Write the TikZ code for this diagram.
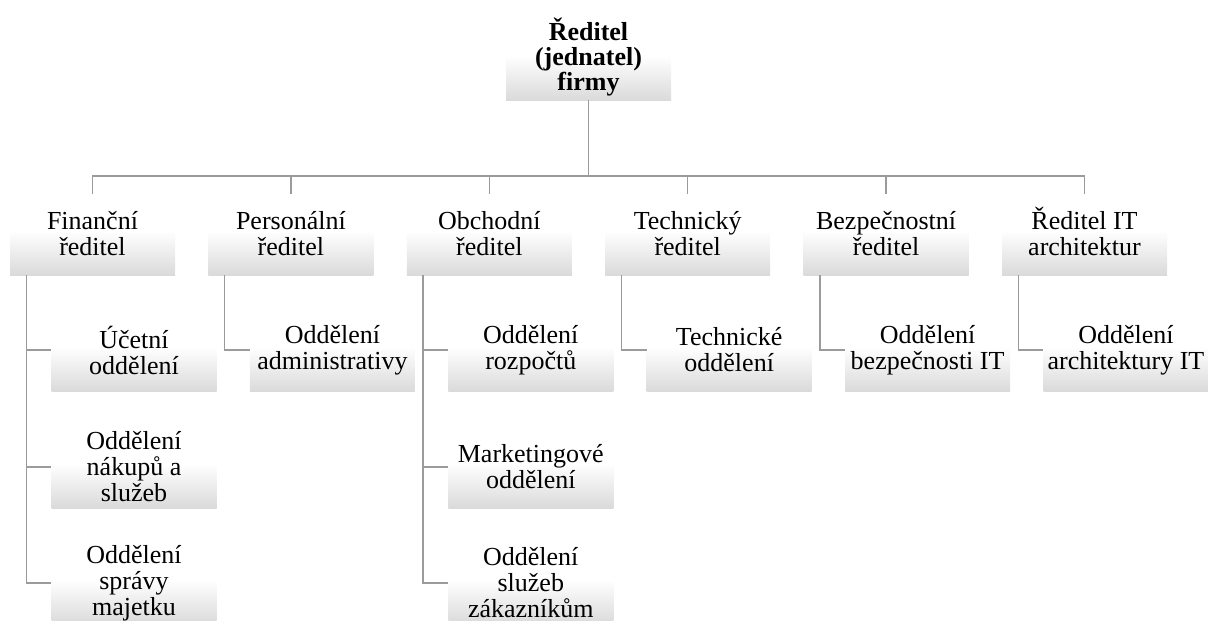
\documentclass[tikz,border=0pt]{standalone}
\usepackage{fontspec}
\setmainfont{Liberation Serif}
\definecolor{fadegray}{RGB}{218,218,218}
\definecolor{linkgray}{RGB}{155,155,155}
\pgfdeclareverticalshading{boxfade}{100bp}{color(0bp)=(fadegray); color(25bp)=(fadegray); color(52bp)=(white); color(100bp)=(white)}
\begin{document}
\begin{tikzpicture}[x=1pt,y=-1pt,
  unitbox/.style={rectangle, shading=boxfade, minimum width=165pt, minimum height=82pt,
    inner sep=0pt, align=center, font=\fontsize{26}{26}\selectfont},
  headbox/.style={unitbox, font=\fontsize{26}{25}\selectfont\bfseries},
  link/.style={draw=linkgray, line width=1.3pt}]
\useasboundingbox (0,0) rectangle (1208,621);

% top of the hierarchy
\node[headbox] (top) at (588.5,59) {\smash{Ř}editel\\(jednatel)\\firmy};

% directors
\node[unitbox] (fin) at (92.5,234)  {Finanční\\ředitel};
\node[unitbox] (per) at (290.9,234) {Personální\\ředitel};
\node[unitbox] (obc) at (489.3,234) {Obchodní\\ředitel};
\node[unitbox] (tec) at (687.7,234) {Technický\\ředitel};
\node[unitbox] (bez) at (886.1,234) {Bezpečnostní\\ředitel};
\node[unitbox] (ita) at (1084.5,234) {\smash{Ř}editel IT\\architektur};

% departments
\node[unitbox] (fin1) at (134,350) {Účetní\\oddělení};
\node[unitbox] (fin2) at (134,467) {Oddělení\\nákupů a\\služeb};
\node[unitbox] (fin3) at (134,583) {Oddělení\\správy\\majetku};
\node[unitbox] (per1) at (332.4,350) {Oddělení\\administrativy};
\node[unitbox] (obc1) at (530.8,350) {Oddělení\\rozpočtů};
\node[unitbox] (obc2) at (530.8,467) {Marketingové\\oddělení};
\node[unitbox] (obc3) at (530.8,583) {Oddělení\\služeb\\zákazníkům};
\node[unitbox] (tec1) at (729.2,350) {Technické\\oddělení};
\node[unitbox] (bez1) at (927.6,350) {Oddělení\\bezpečnosti IT};
\node[unitbox] (ita1) at (1126,350) {Oddělení\\architektury IT};

% bus from the top box to the directors
\coordinate (bus) at (588.5,176);
\foreach \d in {fin,per,obc,tec,bez,ita}
  \draw[link] (top.south) -- (top.south |- bus) -| ([yshift=-1pt]\d.north);

% director to department links
\foreach \p/\c in {fin/fin1,fin/fin2,fin/fin3,per/per1,obc/obc1,obc/obc2,obc/obc3,tec/tec1,bez/bez1,ita/ita1}
  \draw[link] ([xshift=16.5pt]\p.south west) |- (\c.west);
\end{tikzpicture}
\end{document}
